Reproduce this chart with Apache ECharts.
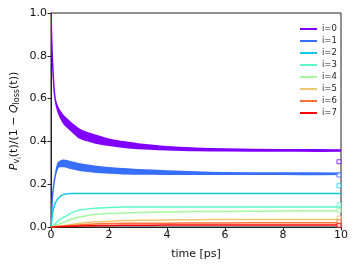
<!DOCTYPE html>
<html><head><meta charset="utf-8">
<script src="https://cdn.jsdelivr.net/npm/echarts@6/dist/echarts.min.js"></script>
<style>html,body{margin:0;padding:0;background:#fff}#c{width:357px;height:268px}</style>
</head><body><div id="c"></div>
<script>
var seriesNames = ['i=0','i=1','i=2','i=3','i=4','i=5','i=6','i=7'];
var colors = ['#8000ff','#376ff9','#12c8e6','#5bfac8','#a4f89f','#edc76f','#ff6f39','#ff0000'];
var xTicks = [0,2,4,6,8,10];
var yTicks = [0,0.2,0.4,0.6,0.8,1.0];

var time = [0,0.02,0.045,0.08,0.14,0.25,0.4,0.5,0.7,1,1.5,2,2.5,3,4,5,6,8,10];
// i=0 band (lower / upper)
var p0Low = [1.0,0.90,0.80,0.70,0.60,0.535,0.492,0.474,0.45,0.415,0.394,0.382,0.373,0.367,0.361,0.357,0.356,0.355,0.355];
var p0Up  = [1.0,0.90,0.80,0.70,0.60,0.555,0.525,0.51,0.486,0.455,0.43,0.41,0.398,0.388,0.375,0.368,0.364,0.361,0.36];
// i=1 band
var p1Low = [0,0.06,0.13,0.18,0.235,0.28,0.283,0.281,0.274,0.265,0.257,0.252,0.249,0.248,0.247,0.246,0.246,0.246,0.246];
var p1Up  = [0,0.06,0.13,0.18,0.235,0.30,0.312,0.311,0.304,0.294,0.284,0.277,0.272,0.268,0.262,0.257,0.254,0.252,0.251];
var p2 = [0,0.025,0.055,0.08,0.11,0.134,0.15,0.154,0.156,0.157,0.157,0.157,0.157,0.157,0.157,0.157,0.157,0.157,0.157];
var p3 = [0,0.002,0.005,0.008,0.014,0.03,0.043,0.05,0.066,0.079,0.088,0.091,0.093,0.094,0.094,0.094,0.094,0.094,0.094];
var p4 = [0,0.001,0.002,0.004,0.007,0.012,0.02,0.025,0.036,0.047,0.058,0.063,0.066,0.068,0.07,0.072,0.073,0.075,0.076];
var p5 = [0,0,0.001,0.001,0.002,0.004,0.006,0.008,0.012,0.017,0.024,0.027,0.03,0.031,0.033,0.034,0.035,0.035,0.035];
var p6 = [0,0,0,0.001,0.001,0.002,0.004,0.005,0.007,0.01,0.014,0.016,0.017,0.018,0.018,0.019,0.019,0.02,0.02];
var p7 = [0,0,0,0,0.001,0.001,0.002,0.002,0.003,0.005,0.006,0.007,0.008,0.008,0.009,0.009,0.009,0.009,0.009];
var markerTime = 9.93;
var markerValues = [0.305,0.243,0.193,0.104,0.078,0.042,0.025,0.008];

function pairs(vals){ return time.map(function(t,k){ return [t, vals[k]]; }); }

var series = [];
function band(name, color, low, up){
  series.push({name:name,type:'custom',coordinateSystem:'cartesian2d',z:3,
    itemStyle:{color:color},
    data:[[time[0], low[0]]],
    clip:true,
    renderItem:function(params, api){
      var pts = [];
      for (var k=0;k<time.length;k++) pts.push(api.coord([time[k], up[k]]));
      for (var k=time.length-1;k>=0;k--) pts.push(api.coord([time[k], low[k]]));
      return {type:'polygon',shape:{points:pts,smooth:0.3},
        style:{fill:color,stroke:color,lineWidth:1.5,lineJoin:'round'}};
    }});
}
band(seriesNames[0], colors[0], p0Low, p0Up);
band(seriesNames[1], colors[1], p1Low, p1Up);
[p2,p3,p4,p5,p6,p7].forEach(function(vals,k){
  var i = k+2;
  series.push({name:seriesNames[i],type:'line',data:pairs(vals),symbol:'none',smooth:0.3,
    lineStyle:{color:colors[i],width:1.5},itemStyle:{color:colors[i]},z:3});
});
series.push({name:'markers',type:'scatter',symbol:'rect',symbolSize:4,z:5,
  data:markerValues.map(function(v,i){ return {value:[markerTime,v],itemStyle:{color:'#fff',borderColor:colors[i],borderWidth:1}}; })});

var chart = echarts.init(document.getElementById('c'), null, {renderer:'canvas'});
var font = 'DejaVu Sans';
chart.setOption({
  animation:false,
  grid:{left:51,right:16,top:13,bottom:41,show:true,borderColor:'#222',borderWidth:1,backgroundColor:'transparent'},
  legend:{data:seriesNames.map(function(n,i){return {name:n,itemStyle:{color:colors[i]}};}),
    orient:'vertical',left:295,top:18,icon:'rect',itemWidth:17,itemHeight:2,itemGap:0,
    textStyle:{fontFamily:font,fontSize:8.5,color:'#222',lineHeight:12}},
  xAxis:{type:'value',min:xTicks[0],max:xTicks[xTicks.length-1],interval:2,
    name:'time [ps]',nameLocation:'middle',nameGap:22,
    nameTextStyle:{fontFamily:font,fontSize:11,color:'#111'},
    axisLine:{show:true,lineStyle:{color:'#222',width:1}},
    axisTick:{show:true,length:3.5,inside:false,lineStyle:{color:'#222'}},
    axisLabel:{fontFamily:font,fontSize:11,color:'#111',margin:3},
    splitLine:{show:false}},
  yAxis:{type:'value',min:yTicks[0],max:yTicks[yTicks.length-1],interval:0.2,
    axisLine:{show:true,lineStyle:{color:'#222',width:1}},
    axisTick:{show:true,length:3.5,inside:false,lineStyle:{color:'#222'}},
    axisLabel:{fontFamily:font,fontSize:11,color:'#111',margin:4,formatter:function(v){return v.toFixed(1);}},
    splitLine:{show:false}},
  graphic:[{type:'text',x:14,y:121,rotation:Math.PI/2,
    style:{text:'{it|P}{sub|v}{subsub|i}{n|(t)/(1 − }{it|Q}{sub|loss}{n|(t))}',
      fontFamily:font,fontSize:11,fill:'#111',align:'center',verticalAlign:'middle',
      rich:{
        it:{fontFamily:font,fontSize:11,fontStyle:'italic',fill:'#111'},
        n:{fontFamily:font,fontSize:11,fill:'#111'},
        sub:{fontFamily:font,fontSize:8,fill:'#111',padding:[6,0,0,0]},
        subsub:{fontFamily:font,fontSize:6,fill:'#111',padding:[10,0,0,0]}
      }}}],
  series:series
});
</script></body></html>
